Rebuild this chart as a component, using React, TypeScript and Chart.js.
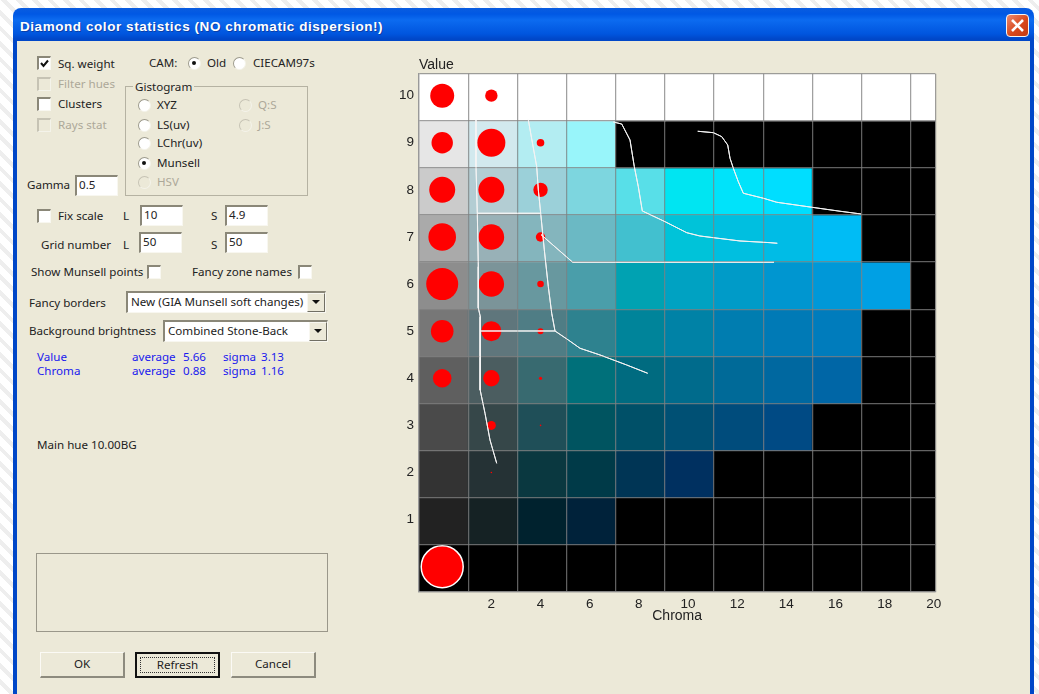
import React, { useEffect, useRef } from "react";
import { Chart, registerables } from "chart.js";

Chart.register(...registerables);

const FONT = '"Noto Sans", "Liberation Sans", sans-serif';
const CHART_FONT = '"Liberation Sans", sans-serif';

// ---- chart data ----
const chromaColumns = [0, 2, 4, 6, 8, 10, 12, 14, 16, 18, 20];
const chromaTickLabels = [2, 4, 6, 8, 10, 12, 14, 16, 18, 20];
const valueTickLabels = [1, 2, 3, 4, 5, 6, 7, 8, 9, 10];
const K = "#000000";
const W = "#ffffff";
const row10 = [W, W, W, W, W, W, W, W, W, W, W];
const row9 = ["#e6e6e6", "#d2e9ee", "#b3edf2", "#98f5fa", K, K, K, K, K, K, K];
const row8 = ["#cbcbcb", "#b3cdd3", "#9bd0d9", "#7dd6df", "#58dfe8", "#00e5f2", "#00e3fa", "#00deff", K, K, K];
const row7 = ["#aaaaaa", "#98b1b7", "#84b5bd", "#6bb9c4", "#42c0cf", "#00c3d9", "#00bfe0", "#00bce6", "#00bcf5", K, K];
const row6 = ["#8d8d8d", "#7b9499", "#68989f", "#4a9eaa", "#00a2b2", "#00a2c2", "#009bc8", "#0096d0", "#0098d8", "#00a0e4", K];
const row5 = ["#777777", "#5f767c", "#4f7d85", "#2e828f", "#00849a", "#0082a6", "#007db0", "#007ab6", "#007cbc", K, K];
const row4 = ["#5f5f5f", "#4b5d60", "#386a70", "#00707a", "#006b80", "#006b8c", "#006a98", "#0068a0", "#0066a6", K, K];
const row3 = ["#4a4a4a", "#364749", "#1f4f58", "#005460", "#005068", "#005074", "#004c7c", "#004a84", K, K, K];
const row2 = ["#333333", "#253235", "#0a3840", "#003a48", "#003555", "#003060", K, K, K, K, K];
const row1 = ["#222222", "#152224", "#00222e", "#00223a", K, K, K, K, K, K, K];
const row0 = [K, K, K, K, K, K, K, K, K, K, K];
const cellRows = [row0, row1, row2, row3, row4, row5, row6, row7, row8, row9, row10];

// [chroma, value, dot size]
const dots = [
  [0, 10, 12], [2, 10, 6.2],
  [0, 9, 10.7], [2, 9, 14], [4, 9, 3.8],
  [0, 8, 13], [2, 8, 13], [4, 8, 7.2],
  [0, 7, 13.8], [2, 7, 12.8], [4, 7, 4.7],
  [0, 6, 16], [2, 6, 12.7], [4, 6, 3.3],
  [0, 5, 11.3], [2, 5, 10], [4, 5, 3],
  [0, 4, 9.3], [2, 4, 8.2], [4, 4, 1.6],
  [2, 3, 4.5], [4, 3, 0.8],
  [2, 2, 0.8],
  [0, 0, 21],
];

const curveA = [[1.375, 9.484], [1.375, 8.493], [1.428, 7.503], [1.469, 6.369], [1.469, 5.493], [1.55, 5.308], [1.538, 4.601], [1.55, 3.752], [1.741, 3.257], [1.945, 2.69], [2.217, 2.195]];
const curveB = [[3.503, 9.484], [3.845, 8.493], [3.91, 7.998], [4.007, 7.503], [4.154, 6.724], [4.317, 5.945], [4.455, 5.38], [4.589, 5.004], [5.13, 4.813], [5.606, 4.637], [6.42, 4.495], [7.506, 4.282], [8.36, 4.106]];
const curveC = [[1.428, 7.503], [4.007, 7.503]];
const curveD = [[1.55, 5.004], [4.589, 5.004]];
const curveE = [[4.02, 7.05], [5.309, 6.463], [13.498, 6.463]];
const curveF = [[6.961, 9.441], [7.303, 9.398], [7.64, 9.059], [7.815, 8.493], [7.978, 8.068], [8.141, 7.552], [9.064, 7.325], [9.947, 7.091], [10.48, 7.021], [11.03, 6.985], [12.115, 6.915], [13.336, 6.879], [13.633, 6.866]];
const curveG = [[10.395, 9.244], [11.03, 9.214], [11.371, 9.13], [11.615, 8.953], [11.709, 8.671], [11.843, 8.459], [12.046, 8.174], [12.25, 7.928], [13.064, 7.822], [13.608, 7.737], [15.032, 7.631], [16.184, 7.546], [17.038, 7.488]];
const curves = [curveA, curveB, curveC, curveD, curveE, curveF, curveG];

const chromaOffset = 0.06;
const valueOffset = -0.034;

// The grid sits above the cells, so the curves are painted once more above the grid.
const curvesOnTop = {
  id: "curvesOnTop",
  afterDraw(chart: any) {
    curves.forEach((_, i) => chart.getDatasetMeta(i).controller.draw());
  },
};

function DiamondChart() {
  const ref = useRef<HTMLCanvasElement | null>(null);
  useEffect(() => {
    const cells: any[] = [];
    const cellColors: string[] = [];
    cellRows.forEach((row, v) => {
      row.forEach((color, i) => {
        cells.push({ x: chromaColumns[i] + chromaOffset, y: [v - 0.5 + valueOffset, v + 0.5 + valueOffset] });
        cellColors.push(color);
      });
    });
    const chromaEdges = [-1, ...chromaColumns.slice(0, -1).map((c) => c + 1)].map((e) => e + chromaOffset);
    chromaEdges.push(20.06);
    const valueEdges = [-1, ...valueTickLabels.map((v) => v - 1), 10].map((e) => e + 0.5 + valueOffset);
    const gridColor = (ctx: any) =>
      ctx.tick && Number.isInteger(ctx.tick.value) ? "rgba(0,0,0,0)" : "rgba(128,128,128,0.75)";
    const tickLabel = (v: any) => (Number.isInteger(v) ? String(v) : "");
    const chart = new Chart(ref.current as HTMLCanvasElement, {
      type: "bar",
      plugins: [curvesOnTop],
      data: {
        datasets: [
          ...curves.map((c) => ({
            type: "line" as const,
            data: c.map(([x, y]) => ({ x, y })),
            borderColor: "#f4f4f4",
            borderWidth: 1,
            pointRadius: 0,
            tension: 0,
            fill: false,
            order: 1,
          })),
          {
            type: "bubble" as const,
            data: dots.map(([x, y, r]) => ({ x, y, r })),
            backgroundColor: "#ff0000",
            borderColor: dots.map((d) => (d[2] > 20 ? "#ffffff" : "#ff0000")),
            borderWidth: dots.map((d) => (d[2] > 20 ? 1.5 : 0)),
            order: 2,
          },
          {
            type: "bar" as const,
            data: cells,
            backgroundColor: cellColors,
            borderWidth: 0,
            grouped: false,
            barThickness: 49.6,
            order: 3,
          },
        ] as any,
      },
      options: {
        animation: false,
        responsive: false,
        events: [],
        layout: { padding: { left: 0, right: 44.7, top: 0, bottom: 0 } },
        plugins: {
          legend: { display: false },
          tooltip: { enabled: false },
          title: {
            display: true,
            text: "Value",
            align: "start",
            fullSize: false,
            color: "#222222",
            font: { family: CHART_FONT, size: 14, weight: "normal", lineHeight: 1.2 },
            padding: { top: 6.9, bottom: 0 },
          },
        },
        scales: {
          x: {
            type: "linear",
            offset: false,
            min: -0.944,
            max: 20.06,
            afterBuildTicks: (s: any) => {
              s.ticks = [...chromaEdges, ...chromaTickLabels].sort((a, b) => a - b).map((value) => ({ value }));
            },
            afterFit: (s: any) => {
              s.height = 48;
            },
            ticks: {
              autoSkip: false,
              maxRotation: 0,
              padding: 4,
              color: "#222222",
              font: { family: CHART_FONT, size: 13.5 },
              callback: tickLabel,
            },
            grid: { color: gridColor, z: 1, drawTicks: false, tickLength: 0, offset: false, lineWidth: 1.25 },
            border: { display: true, color: "#999999", z: 1, width: 1.25 },
            title: {
              display: true,
              text: "Chroma",
              color: "#222222",
              font: { family: CHART_FONT, size: 14, lineHeight: 1.2 },
              padding: { top: 0, bottom: 15.2 },
            },
          },
          y: {
            type: "linear",
            min: -0.537,
            max: 10.466,
            afterBuildTicks: (s: any) => {
              s.ticks = [...valueEdges, ...valueTickLabels].sort((a, b) => a - b).map((value) => ({ value }));
            },
            afterFit: (s: any) => {
              s.width = 39;
            },
            ticks: {
              autoSkip: false,
              padding: 5,
              color: "#222222",
              font: { family: CHART_FONT, size: 13.5 },
              callback: tickLabel,
            },
            grid: { color: gridColor, z: 1, drawTicks: false, tickLength: 0, lineWidth: 1.25 },
            border: { display: true, color: "#999999", z: 1, width: 1.25 },
          },
        },
      } as any,
    });
    return () => chart.destroy();
  }, []);
  return (
    <canvas
      ref={ref}
      width={600}
      height={590}
      style={{ position: "absolute", left: 380, top: 50, width: 600, height: 590 }}
    />
  );
}

// ---- dialog chrome ----
const GREY = "#aca899";
const sunken: React.CSSProperties = {
  background: "#fff",
  borderTop: "2px solid #8a8778",
  borderLeft: "2px solid #8a8778",
  borderRight: "1px solid #f8f7f0",
  borderBottom: "1px solid #f8f7f0",
  boxSizing: "border-box",
};
const UI_SIZE = 11.6;

function T({ x, y, c, children, w }: any) {
  return (
    <div
      style={{
        position: "absolute",
        left: x,
        top: y - 9,
        height: 18,
        lineHeight: "18px",
        fontSize: UI_SIZE,
        whiteSpace: "nowrap",
        color: c || "#222",
        width: w,
      }}
    >
      {children}
    </div>
  );
}

function Check({ x, y, on, off }: any) {
  const base: React.CSSProperties = off
    ? {
        background: "#ece9d8",
        borderTop: "2px solid #c6c3b4",
        borderLeft: "2px solid #c6c3b4",
        borderRight: "1px solid #f4f3ea",
        borderBottom: "1px solid #f4f3ea",
        boxSizing: "border-box",
      }
    : sunken;
  return (
    <div style={{ ...base, position: "absolute", left: x, top: y - 7, width: 14, height: 14 }}>
      {on ? (
        <svg width="11" height="11" viewBox="0 0 11 11" style={{ position: "absolute", left: 0, top: 0 }}>
          <path d="M2 5 L4.5 8 L9 2.5" stroke="#111" strokeWidth="2" fill="none" />
        </svg>
      ) : null}
    </div>
  );
}

function Radio({ x, y, on, off }: any) {
  return (
    <div
      style={{
        position: "absolute",
        left: x - 6.5,
        top: y - 6.5,
        width: 13,
        height: 13,
        boxSizing: "border-box",
        borderRadius: "50%",
        background: off ? "#ece9d8" : "#fff",
        border: "1.5px solid",
        borderColor: off ? "#c6c3b4 #f4f3ea #f4f3ea #c6c3b4" : "#9c9a8c #f4f3ea #f4f3ea #9c9a8c",
      }}
    >
      {on ? <div style={{ position: "absolute", left: 3, top: 3, width: 4, height: 4, borderRadius: "50%", background: "#111" }} /> : null}
    </div>
  );
}

function Input({ x, y, w, h, children }: any) {
  return (
    <div style={{ ...sunken, position: "absolute", left: x, top: y, width: w, height: h, fontSize: UI_SIZE, lineHeight: `${h - 5}px`, paddingLeft: 2, color: "#222" }}>
      {children}
    </div>
  );
}

function Combo({ x, y, w, text }: any) {
  return (
    <div style={{ ...sunken, position: "absolute", left: x, top: y, width: w, height: 22, fontSize: UI_SIZE, lineHeight: "18px", paddingLeft: 3, color: "#222", whiteSpace: "nowrap" }}>
      {text}
      <div style={{ position: "absolute", right: 0, top: 0, width: 18, height: 19, background: "#ece9d8", borderRight: "1px solid #716f64", borderBottom: "1px solid #716f64", borderTop: "1px solid #f8f7f0", borderLeft: "1px solid #f8f7f0", boxSizing: "border-box" }}>
        <svg width="16" height="17" style={{ position: "absolute", left: 0, top: 0 }}>
          <path d="M4 6 H12 L8 10 Z" fill="#111" />
        </svg>
      </div>
    </div>
  );
}

function Btn({ x, label, focus }: any) {
  return (
    <div
      style={{
        position: "absolute",
        left: x,
        top: 652,
        width: 85,
        height: 26,
        boxSizing: "border-box",
        background: "#ece9d8",
        borderTop: focus ? "2px solid #111" : "1px solid #fbfaf5",
        borderLeft: focus ? "2px solid #111" : "1px solid #fbfaf5",
        borderRight: focus ? "2px solid #111" : "2px solid #8d8b7e",
        borderBottom: focus ? "2px solid #111" : "2px solid #8d8b7e",
        textAlign: "center",
        fontSize: UI_SIZE,
        lineHeight: "22px",
        color: "#222",
      }}
    >
      {focus ? <div style={{ position: "absolute", left: 3, top: 3, right: 3, bottom: 3, border: "1px dotted #333" }} /> : null}
      {label}
    </div>
  );
}

export default function App() {
  return (
    <div
      style={{
        position: "fixed",
        left: 0,
        top: 0,
        width: 1039,
        height: 694,
        overflow: "hidden",
        fontFamily: FONT,
        filter: "blur(0.3px)",
        background: "repeating-linear-gradient(45deg, #ffffff 0 7px, #eeeeee 7px 11px)",
      }}
    >
      {/* window */}
      <div
        style={{
          position: "absolute",
          left: 13,
          top: 8,
          width: 1021,
          height: 720,
          borderRadius: "8px 8px 0 0",
          background: "linear-gradient(#0a5ce0 0, #0058e4 6px, #0c6bf0 12px, #0055de 26px, #0047c8 31px)",
        }}
      />
      <div style={{ position: "absolute", left: 17, top: 41, width: 1013, height: 660, background: "#ece9d8" }} />
      <div style={{ position: "absolute", left: 20, top: 17, height: 20, lineHeight: "20px", color: "#fff", fontWeight: 700, fontSize: 13.5, whiteSpace: "nowrap", fontFamily: '"Liberation Sans", sans-serif', textShadow: "1px 1px #0a3fa8", letterSpacing: 0.56 }}>
        Diamond color statistics (NO chromatic dispersion!)
      </div>
      <div style={{ position: "absolute", left: 1006, top: 14, width: 23, height: 23, boxSizing: "border-box", borderRadius: 4, border: "1px solid #f4f4f4", background: "linear-gradient(135deg, #ec8a6e, #d8481c 55%, #c43a12)" }}>
        <svg width="21" height="21" style={{ position: "absolute", left: 0, top: 0 }}>
          <path d="M5 5 L16 16 M16 5 L5 16" stroke="#fff" strokeWidth="2.6" />
        </svg>
      </div>

      {/* left controls */}
      <Check x={37} y={63} on />
      <T x={58} y={64}>Sq. weight</T>
      <T x={149} y={63}>CAM:</T>
      <Radio x={194} y={63} on />
      <T x={207} y={63}>Old</T>
      <Radio x={239} y={63} />
      <T x={253} y={63}>CIECAM97s</T>
      <Check x={37} y={84} off />
      <T x={58} y={84} c={GREY}>Filter hues</T>
      <Check x={37} y={104} />
      <T x={58} y={104}>Clusters</T>
      <Check x={37} y={125} off />
      <T x={58} y={125} c={GREY}>Rays stat</T>

      <div style={{ position: "absolute", left: 125, top: 86, width: 183, height: 110, boxSizing: "border-box", border: "1px solid #b5b2a2" }} />
      <div style={{ position: "absolute", left: 133, top: 78, height: 18, lineHeight: "18px", padding: "0 2px", fontSize: UI_SIZE, background: "#ece9d8", color: "#222" }}>Gistogram</div>
      <Radio x={144} y={105} />
      <T x={157} y={105}>XYZ</T>
      <Radio x={144} y={125} />
      <T x={157} y={125}>LS(uv)</T>
      <Radio x={144} y={143} />
      <T x={157} y={143}>LChr(uv)</T>
      <Radio x={144} y={163} on />
      <T x={157} y={163}>Munsell</T>
      <Radio x={144} y={182} off />
      <T x={157} y={182} c={GREY}>HSV</T>
      <Radio x={245} y={105} off />
      <T x={258} y={105} c={GREY}>Q:S</T>
      <Radio x={245} y={125} off />
      <T x={258} y={125} c={GREY}>J:S</T>

      <T x={27} y={185}>Gamma</T>
      <Input x={75} y={175} w={43} h={21}>0.5</Input>
      <Check x={37} y={216} />
      <T x={58} y={216}>Fix scale</T>
      <T x={123} y={216}>L</T>
      <Input x={140} y={205} w={43} h={21}>10</Input>
      <T x={211} y={216}>S</T>
      <Input x={225} y={205} w={43} h={21}>4.9</Input>
      <T x={41} y={245}>Grid number</T>
      <T x={123} y={245}>L</T>
      <Input x={139} y={232} w={43} h={21}>50</Input>
      <T x={211} y={245}>S</T>
      <Input x={225} y={232} w={43} h={21}>50</Input>
      <T x={31} y={272}>Show Munsell points</T>
      <Check x={147} y={272} />
      <T x={192} y={272}>Fancy zone names</T>
      <Check x={298} y={272} />
      <T x={29} y={303}>Fancy borders</T>
      <Combo x={126} y={291} w={200} text="New (GIA Munsell soft changes)" />
      <T x={29} y={331}>Background brightness</T>
      <Combo x={163} y={320} w={165} text="Combined Stone-Back" />

      <T x={37} y={357} c="#1a1aee">Value</T>
      <T x={132} y={357} c="#1a1aee">average</T>
      <T x={183} y={357} c="#1a1aee">5.66</T>
      <T x={223} y={357} c="#1a1aee">sigma</T>
      <T x={261} y={357} c="#1a1aee">3.13</T>
      <T x={37} y={371} c="#1a1aee">Chroma</T>
      <T x={132} y={371} c="#1a1aee">average</T>
      <T x={183} y={371} c="#1a1aee">0.88</T>
      <T x={223} y={371} c="#1a1aee">sigma</T>
      <T x={261} y={371} c="#1a1aee">1.16</T>
      <T x={37} y={445}>Main hue 10.00BG</T>

      <div style={{ position: "absolute", left: 36, top: 553, width: 292, height: 79, boxSizing: "border-box", border: "1px solid #9a978a" }} />
      <Btn x={40} label="OK" />
      <Btn x={135} label="Refresh" focus />
      <Btn x={231} label="Cancel" />

      <DiamondChart />
    </div>
  );
}
